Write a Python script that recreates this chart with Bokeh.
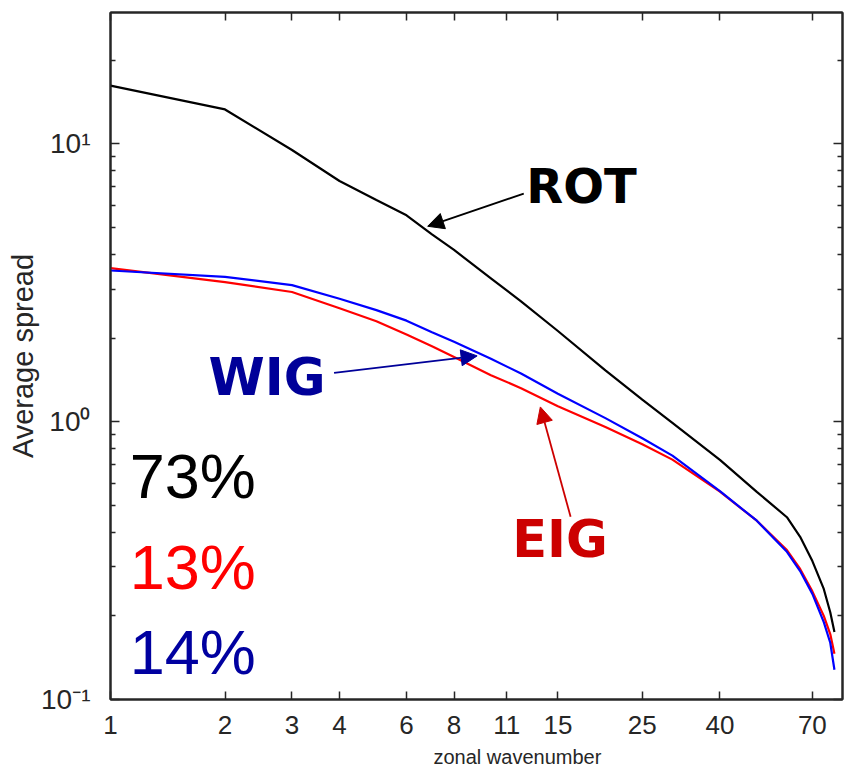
from bokeh.plotting import figure
from bokeh.models import FixedTicker, LogAxis, Label, Arrow, NormalHead, Range1d, Title
from bokeh.embed import file_html
from bokeh.resources import INLINE

# ---- data ----
wavenumber = [1, 2, 3, 4, 5, 6, 7, 8, 10, 12, 15, 20, 25, 30, 40, 50, 60, 65, 70, 75, 78, 80]
rot = [16.2, 13.3, 9.5, 7.35, 6.28, 5.53, 4.72, 4.15, 3.28, 2.71, 2.12, 1.53, 1.20, 0.99,
       0.729, 0.559, 0.453, 0.385, 0.315, 0.250, 0.206, 0.175]
eig = [3.57, 3.18, 2.93, 2.56, 2.30, 2.06, 1.87, 1.71, 1.47, 1.32, 1.137, 0.957, 0.83, 0.73,
       0.56, 0.44, 0.345, 0.295, 0.245, 0.20, 0.172, 0.146]
wig = [3.50, 3.32, 3.10, 2.77, 2.52, 2.31, 2.10, 1.94, 1.685, 1.49, 1.26, 1.03, 0.872, 0.755,
       0.562, 0.44, 0.34, 0.29, 0.24, 0.19, 0.16, 0.128]

x_ticks = [1, 2, 3, 4, 6, 8, 11, 15, 25, 40, 70]
y_major = [0.1, 1, 10]
y_minor = [0.2, 0.3, 0.4, 0.5, 0.6, 0.7, 0.8, 0.9, 2, 3, 4, 5, 6, 7, 8, 9, 20]
y_labels = {0.1: "10\u207b\u00b9", 1: "10\u2070", 10: "10\u00b9"}

shares = ["73%", "13%", "14%"]
share_colors = ["#000000", "#ff0000", "#0000a0"]
share_y = [0.637, 0.2997, 0.148]

names = ["ROT", "WIG", "EIG"]
name_colors = ["#000000", "#000099", "#cc0000"]
name_x = [17.3, 2.58, 15.2]
name_y = [7.06, 1.445, 0.378]
name_size = ["48px", "51px", "51px"]
arrow_start = [(12.2, 6.62), (3.87, 1.498), (16.2, 0.4546)]
arrow_end = [(6.82, 5.05), (9.2, 1.725), (13.49, 1.130)]

AX = "#262626"
FONT = "Liberation Sans"

p = figure(width=844, height=775, x_axis_type="log", y_axis_type="log",
           x_range=Range1d(1, 84), y_range=Range1d(0.1, 29.7),
           output_backend="svg", toolbar_location=None,
           min_border_left=110, min_border_right=2, min_border_top=12, min_border_bottom=75)
p.grid.visible = False
p.outline_line_color = AX
p.outline_line_width = 2
p.background_fill_color = "white"
p.border_fill_color = "white"

p.line(wavenumber, rot, color="#000000", line_width=2.2)
p.line(wavenumber, eig, color="#ff0000", line_width=2.2)
p.line(wavenumber, wig, color="#0000ff", line_width=2.2)

xa = p.xaxis[0]
xa.ticker = FixedTicker(ticks=x_ticks, minor_ticks=[])
xa.major_label_overrides = {t: str(t) for t in x_ticks}
ya = p.yaxis[0]
ya.ticker = FixedTicker(ticks=y_major, minor_ticks=y_minor)
ya.major_label_overrides = y_labels

top = LogAxis(ticker=FixedTicker(ticks=x_ticks, minor_ticks=[]),
              major_label_overrides={t: "" for t in x_ticks})
right = LogAxis(ticker=FixedTicker(ticks=y_major, minor_ticks=y_minor),
                major_label_overrides={t: "" for t in y_major})
p.add_layout(top, "above")
p.add_layout(right, "right")

for ax, tin in ((xa, 8), (ya, 9), (top, 8), (right, 9)):
    ax.axis_line_color = AX
    ax.axis_line_width = 2
    ax.major_tick_line_color = AX
    ax.minor_tick_line_color = AX
    ax.major_tick_line_width = 1.5
    ax.minor_tick_line_width = 1.5
    ax.major_tick_in = tin
    ax.major_tick_out = 0
    ax.minor_tick_in = 5
    ax.minor_tick_out = 0
    ax.major_label_text_font = FONT
    ax.major_label_text_color = AX
top.major_label_standoff = 0
right.major_label_standoff = 0
top.major_label_text_font_size = "2px"
right.major_label_text_font_size = "2px"
xa.major_label_text_font_size = "26px"
xa.major_label_standoff = 16
ya.major_label_text_font_size = "28px"
ya.major_label_standoff = 20

# axis titles
p.add_layout(Title(text="zonal wavenumber", align="left", offset=323, standoff=15,
                   text_font=FONT, text_font_size="20px", text_font_style="normal",
                   text_color=AX), "below")
p.add_layout(Title(text="Average spread", align="center", standoff=0,
                   text_font=FONT, text_font_size="29px", text_font_style="normal",
                   text_color=AX), "left")

# percentages
for t, c, yv in zip(shares, share_colors, share_y):
    p.add_layout(Label(x=1.123, y=yv, text=t, text_font=FONT, text_font_size="63px",
                       text_color=c, text_align="left", text_baseline="middle"))

# mode names with arrows
for t, c, xv, yv, fs, s, e in zip(names, name_colors, name_x, name_y, name_size, arrow_start, arrow_end):
    p.add_layout(Label(x=xv, y=yv, text=t, text_font="DejaVu Sans", text_font_style="bold",
                       text_font_size=fs, text_color=c, text_align="center", text_baseline="middle"))
    p.add_layout(Arrow(x_start=s[0], y_start=s[1], x_end=e[0], y_end=e[1],
                       line_color=c, line_width=1.8,
                       end=NormalHead(size=16, fill_color=c, line_color=c)))

open("out.html", "w").write(file_html(p, INLINE))
